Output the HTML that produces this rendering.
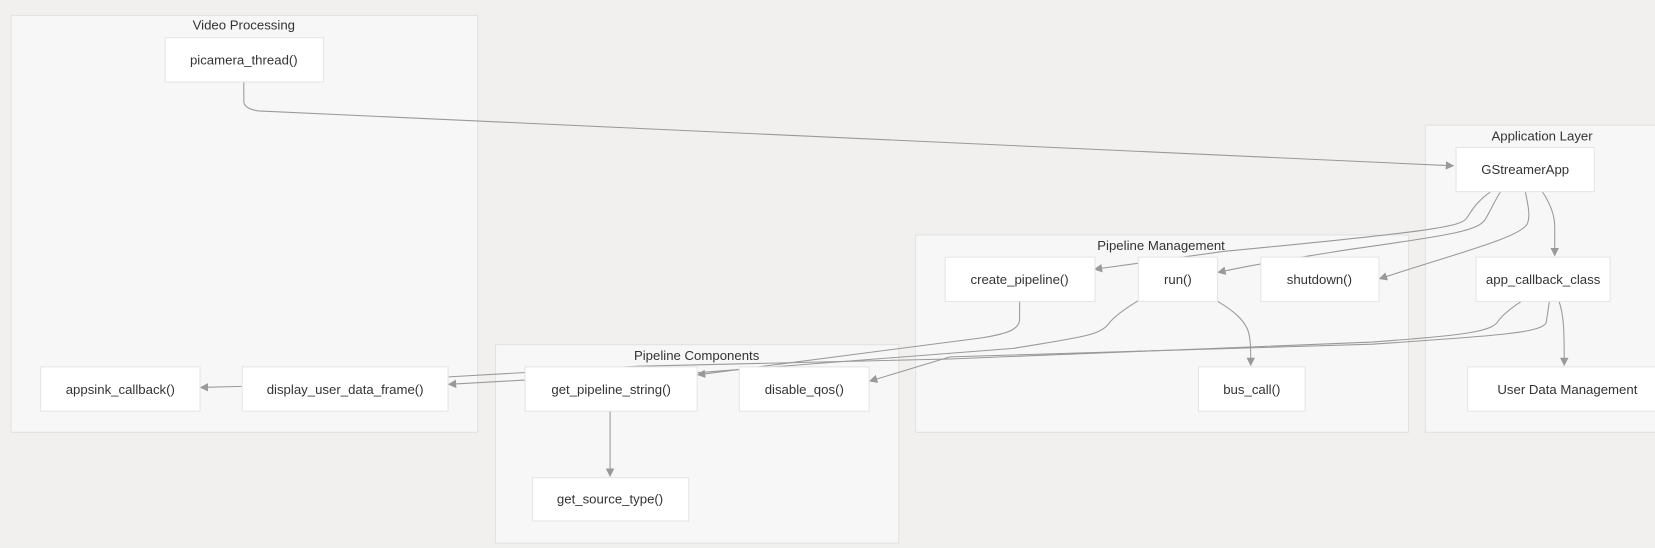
<!DOCTYPE html>
<html><head><meta charset="utf-8"><style>
html,body{margin:0;padding:0;background:#f1f0ef;}
svg{display:block;}
text{font-family:"Liberation Sans","DejaVu Sans",sans-serif;fill:#333;}
</style></head><body>
<svg width="1655" height="548" viewBox="0 0 1568 519" xmlns="http://www.w3.org/2000/svg">
<defs>
<marker id="a" viewBox="0 0 10 10" refX="9" refY="5" markerWidth="8" markerHeight="8" orient="auto-start-reverse" markerUnits="userSpaceOnUse">
<path d="M0,0 L10,5 L0,10 z" fill="#999"/></marker>
</defs>
<rect width="1568" height="519" fill="#f1f0ef"/>
<g fill="#f7f7f7" stroke="#e2e2e2" stroke-width="1">
<rect x="10.5" y="14.5" width="442" height="395"/>
<rect x="469.5" y="326.5" width="382" height="188"/>
<rect x="867.5" y="222.5" width="467" height="187"/>
<rect x="1350.5" y="118.5" width="230" height="291"/>
</g>
<g font-size="12.5" text-anchor="middle">
<text x="231" y="28">Video Processing</text>
<text x="660" y="341">Pipeline Components</text>
<text x="1100" y="237">Pipeline Management</text>
<text x="1461" y="133">Application Layer</text>
</g>
<g fill="none" stroke="#999" stroke-width="1">
<path d="M231,77 L231,96 Q231,103 245,105 L1377,157" marker-end="url(#a)"/>
<path d="M1413,181 C1400,190 1395,198 1390,206 C1385,214 1370,218 1160,238 L1037,255" marker-end="url(#a)"/>
<path d="M1422,181 C1415,192 1412,200 1407,208 C1400,218 1380,222 1280,236 C1230,244 1190,250 1154,258" marker-end="url(#a)"/>
<path d="M1445,181 C1448,195 1450,205 1447,212 C1440,225 1380,240 1307,264" marker-end="url(#a)"/>
<path d="M1461,181 C1470,195 1473,205 1473,215 L1473,242" marker-end="url(#a)"/>
<path d="M1442,285 C1428,294 1422,300 1418,306 C1410,315 1380,318 1300,324 L900,340 L600,347 L425,357"/>
<path d="M1468,285 L1465,305 C1463,315 1420,318 1300,326 L900,338 L824,361" marker-end="url(#a)"/>
<path d="M1477,285 C1482,300 1482,315 1482,346" marker-end="url(#a)"/>
<path d="M966,285 L966,302 C966,312 955,316 930,320 L661,355" marker-end="url(#a)"/>
<path d="M1078,285 C1065,293 1055,300 1050,307 C1042,318 1020,320 960,330 L700,350 L661,353"/>
<path d="M1153,285 C1170,295 1178,303 1182,312 C1185,320 1185,330 1185,346" marker-end="url(#a)"/>
<path d="M497,360 L425,364" marker-end="url(#a)"/>
<path d="M578,389 L578,451" marker-end="url(#a)"/>
<path d="M229,366 L190,367" marker-end="url(#a)"/>
</g>
<g fill="#fff" stroke="#e5e5e5" stroke-width="1">
<rect x="156.5" y="35.5" width="150" height="42"/>
<rect x="38.5" y="347.5" width="151" height="42"/>
<rect x="229.5" y="347.5" width="195" height="42"/>
<rect x="497.5" y="347.5" width="163" height="42"/>
<rect x="700.5" y="347.5" width="123" height="42"/>
<rect x="504.5" y="452.5" width="148" height="41"/>
<rect x="895.5" y="243.5" width="142" height="42"/>
<rect x="1078.5" y="243.5" width="75" height="42"/>
<rect x="1194.5" y="243.5" width="112" height="42"/>
<rect x="1135.5" y="347.5" width="101" height="42"/>
<rect x="1379.5" y="139.5" width="131" height="42"/>
<rect x="1398.5" y="243.5" width="127" height="42"/>
<rect x="1390.5" y="347.5" width="190" height="42"/>
</g>
<g font-size="12.5" text-anchor="middle">
<text x="231" y="61">picamera_thread()</text>
<text x="114" y="373">appsink_callback()</text>
<text x="327" y="373">display_user_data_frame()</text>
<text x="579" y="373">get_pipeline_string()</text>
<text x="762" y="373">disable_qos()</text>
<text x="578" y="477">get_source_type()</text>
<text x="966" y="269">create_pipeline()</text>
<text x="1116" y="269">run()</text>
<text x="1250" y="269">shutdown()</text>
<text x="1186" y="373">bus_call()</text>
<text x="1445" y="165">GStreamerApp</text>
<text x="1462" y="269">app_callback_class</text>
<text x="1485" y="373">User Data Management</text>
</g>
</svg>
</body></html>
